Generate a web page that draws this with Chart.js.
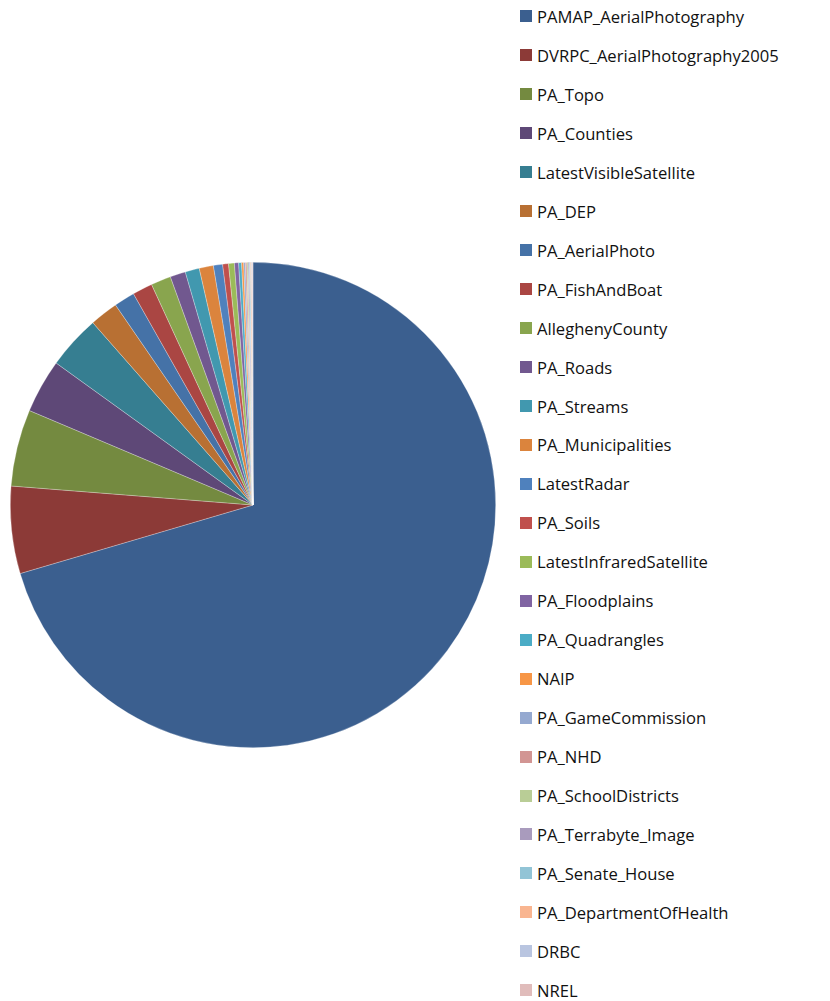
<!DOCTYPE html>
<html>
<head>
<meta charset="utf-8">
<script src="https://cdn.jsdelivr.net/npm/chart.js@4"></script>
<style>
  body { margin: 0; background: #fff; width: 830px; height: 1001px; overflow: hidden; position: relative; }
  #pieBox { position: absolute; left: 10px; top: 262px; width: 486px; height: 486px; }
  #leyenda { position: absolute; left: 520px; top: -3px; font-family: "Open Sans", sans-serif; font-size: 16.6px; color: #111; }
  .fila { height: 38.96px; display: flex; align-items: center; white-space: nowrap; }
  .caja { width: 12px; height: 12px; margin-right: 5px; flex: none; }
</style>
</head>
<body>
<div id="pieBox"><canvas id="grafica"></canvas></div>
<div id="leyenda"></div>
<script>
const capas = ['PAMAP_AerialPhotography', 'DVRPC_AerialPhotography2005', 'PA_Topo', 'PA_Counties',
  'LatestVisibleSatellite', 'PA_DEP', 'PA_AerialPhoto', 'PA_FishAndBoat', 'AlleghenyCounty', 'PA_Roads',
  'PA_Streams', 'PA_Municipalities', 'LatestRadar', 'PA_Soils', 'LatestInfraredSatellite', 'PA_Floodplains',
  'PA_Quadrangles', 'NAIP', 'PA_GameCommission', 'PA_NHD', 'PA_SchoolDistricts', 'PA_Terrabyte_Image',
  'PA_Senate_House', 'PA_DepartmentOfHealth', 'DRBC', 'NREL'];

// valores estimados a partir del dibujo
const valores = [253.6, 20.9, 18.4, 12.9, 12.9, 6.8, 5.0, 4.8, 4.8, 3.7,
  3.4, 3.4, 2.2, 1.4, 1.4, 1.0,
  0.7, 0.5, 0.4, 0.35, 0.3, 0.3, 0.25, 0.25, 0.2, 0.15];

const colores = ['#3B5F8F', '#8C3A37', '#748A40', '#5E4877', '#367E91', '#B87033',
  '#4572A7', '#AA4643', '#89A54E', '#71588F', '#4198AF', '#DB843D',
  '#4F81BD', '#C0504D', '#9BBB59', '#8064A2', '#4BACC6', '#F79646',
  '#95A9D0', '#D29593', '#B9CD96', '#A99BBD', '#92C4D6', '#F9B590',
  '#B9C5E0', '#E0BCBB'];

// Leyenda
const leyenda = document.getElementById('leyenda');
capas.forEach((capa, i) => {
  const fila = document.createElement('div');
  fila.className = 'fila';
  const caja = document.createElement('span');
  caja.className = 'caja';
  caja.style.background = colores[i];
  const texto = document.createElement('span');
  texto.textContent = capa;
  fila.appendChild(caja);
  fila.appendChild(texto);
  leyenda.appendChild(fila);
});

const ctx = document.getElementById('grafica').getContext('2d');
new Chart(ctx, {
  type: 'pie',
  data: {
    labels: capas,
    datasets: [{
      data: valores,
      backgroundColor: colores,
      borderColor: 'rgba(255,255,255,0.45)',
      borderWidth: 0.6
    }]
  },
  options: {
    responsive: true,
    maintainAspectRatio: false,
    animation: false,
    plugins: {
      legend: { display: false },
      tooltip: { enabled: false }
    }
  }
});
</script>
</body>
</html>
